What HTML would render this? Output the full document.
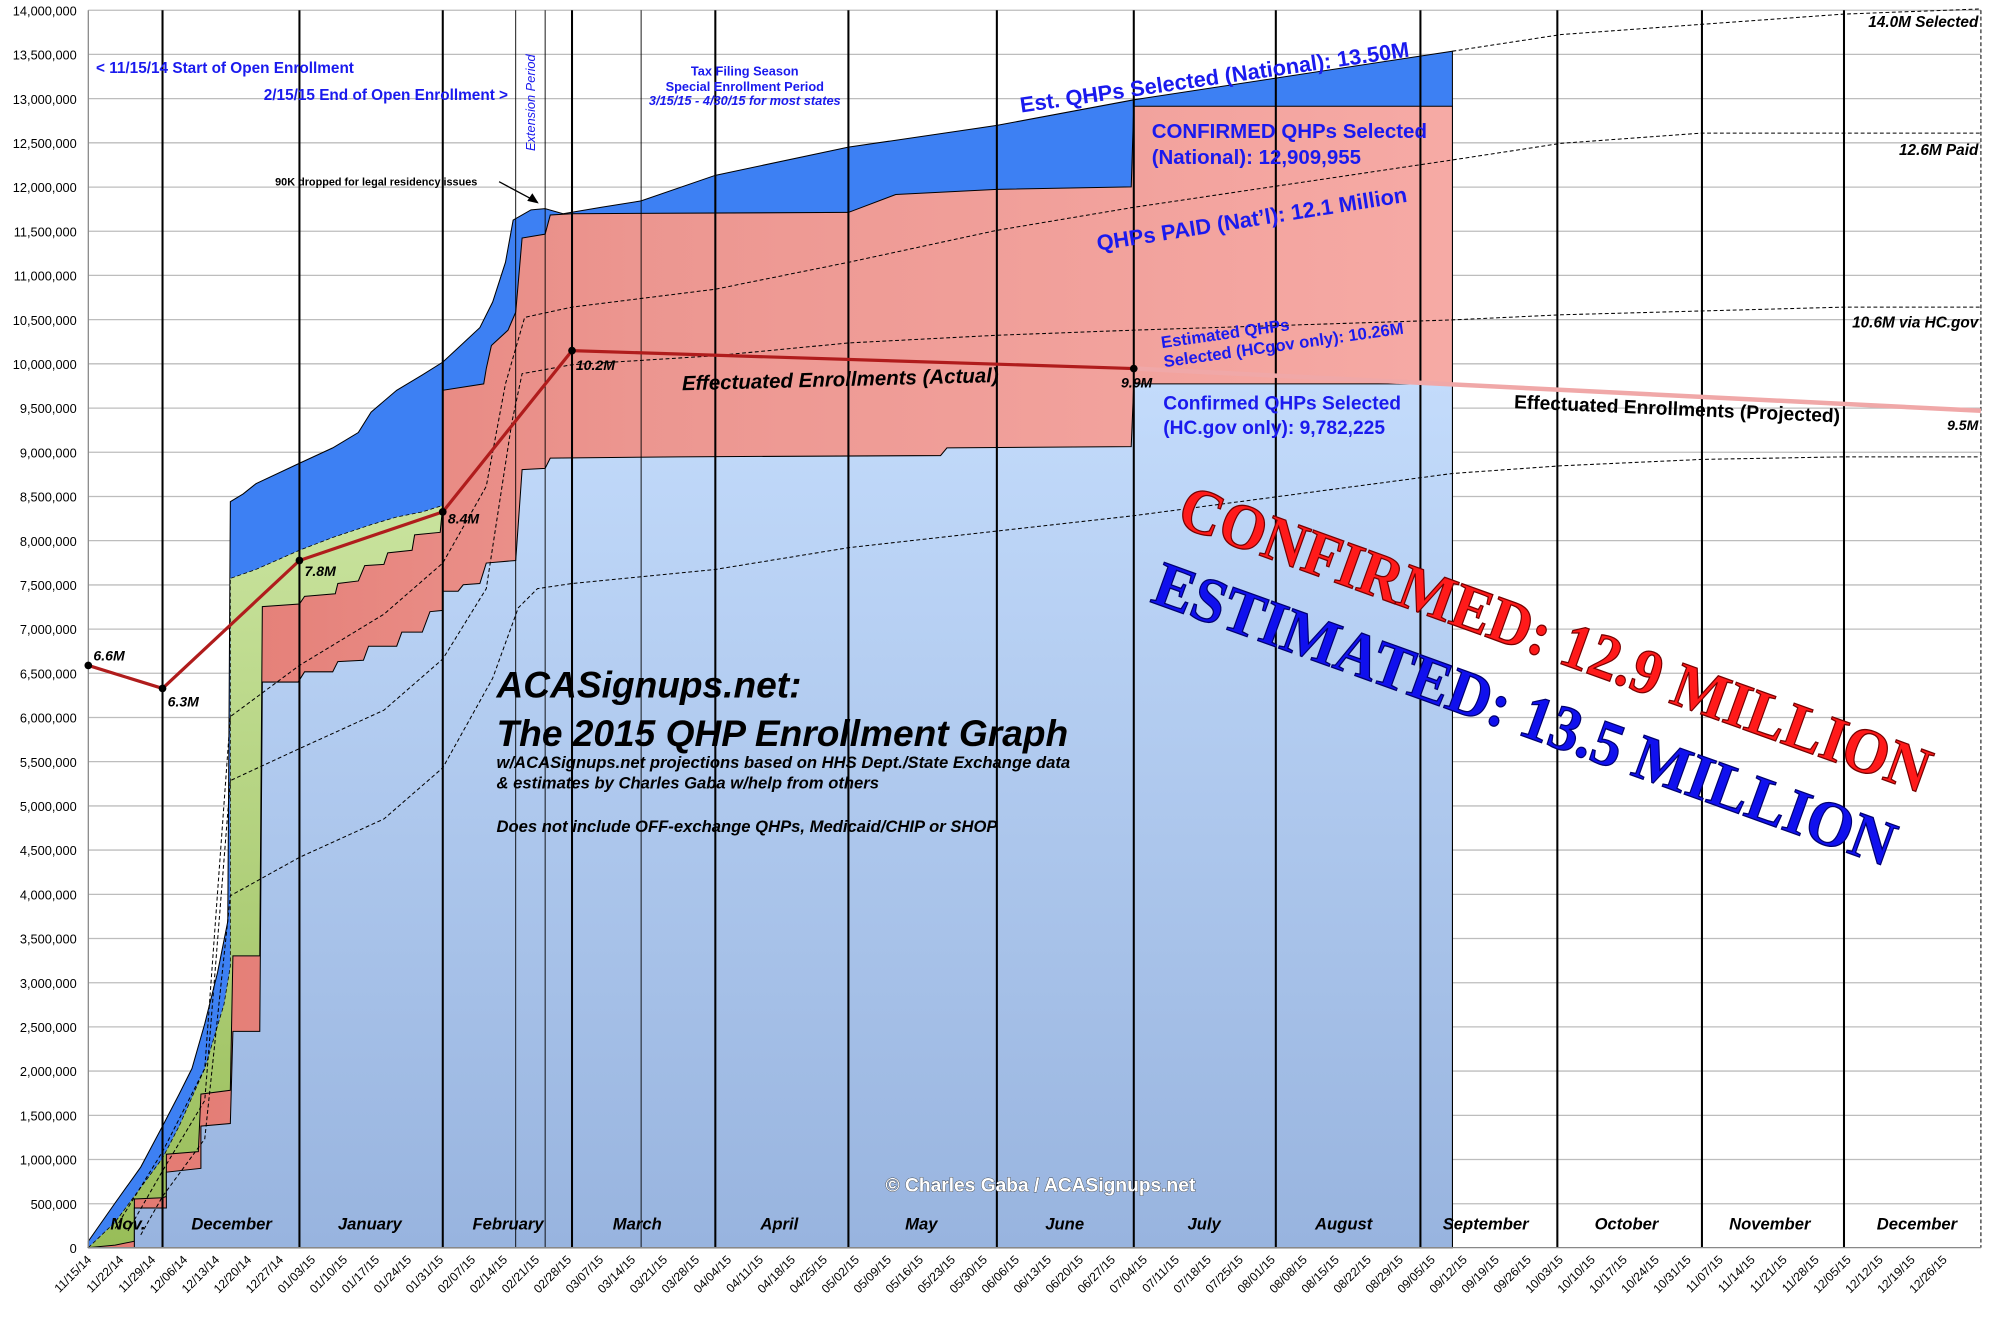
<!DOCTYPE html>
<html><head><meta charset="utf-8"><style>
html,body{margin:0;padding:0;background:#fff;}
svg{display:block;}
text{font-family:"Liberation Sans",sans-serif;}
text.serif{font-family:"Liberation Serif",serif;}
</style></head><body>
<svg width="2006" height="1327" viewBox="0 0 1567.6 1037" xmlns="http://www.w3.org/2000/svg">
<defs>
<linearGradient id="lb" x1="0" y1="0" x2="0" y2="1"><stop offset="0" stop-color="#c3dbfb"/><stop offset="1" stop-color="#98b4df"/></linearGradient>
<linearGradient id="pk" x1="0" y1="0" x2="1" y2="0"><stop offset="0" stop-color="#e2776f"/><stop offset="0.4" stop-color="#ec9690"/><stop offset="1" stop-color="#f6aaa5"/></linearGradient>
<linearGradient id="gr" x1="0" y1="0" x2="0" y2="1"><stop offset="0" stop-color="#c9e39e"/><stop offset="1" stop-color="#98bd58"/></linearGradient>
</defs>
<rect width="1568" height="1037" fill="#fff"/>
<g stroke="#bdbdbd" stroke-width="1">
<line x1="69" x2="1548" y1="8" y2="8"/><line x1="69" x2="1548" y1="42.5" y2="42.5"/><line x1="69" x2="1548" y1="77.1" y2="77.1"/><line x1="69" x2="1548" y1="111.6" y2="111.6"/><line x1="69" x2="1548" y1="146.2" y2="146.2"/><line x1="69" x2="1548" y1="180.7" y2="180.7"/><line x1="69" x2="1548" y1="215.2" y2="215.2"/><line x1="69" x2="1548" y1="249.8" y2="249.8"/><line x1="69" x2="1548" y1="284.3" y2="284.3"/><line x1="69" x2="1548" y1="318.9" y2="318.9"/><line x1="69" x2="1548" y1="353.4" y2="353.4"/><line x1="69" x2="1548" y1="388" y2="388"/><line x1="69" x2="1548" y1="422.5" y2="422.5"/><line x1="69" x2="1548" y1="457.1" y2="457.1"/><line x1="69" x2="1548" y1="491.6" y2="491.6"/><line x1="69" x2="1548" y1="526.1" y2="526.1"/><line x1="69" x2="1548" y1="560.7" y2="560.7"/><line x1="69" x2="1548" y1="595.2" y2="595.2"/><line x1="69" x2="1548" y1="629.8" y2="629.8"/><line x1="69" x2="1548" y1="664.3" y2="664.3"/><line x1="69" x2="1548" y1="698.9" y2="698.9"/><line x1="69" x2="1548" y1="733.4" y2="733.4"/><line x1="69" x2="1548" y1="768" y2="768"/><line x1="69" x2="1548" y1="802.5" y2="802.5"/><line x1="69" x2="1548" y1="837" y2="837"/><line x1="69" x2="1548" y1="871.6" y2="871.6"/><line x1="69" x2="1548" y1="906.1" y2="906.1"/><line x1="69" x2="1548" y1="940.7" y2="940.7"/>
</g>
<g font-size="10" text-anchor="end" fill="#000">
<text x="60" y="12">14,000,000</text><text x="60" y="46.5">13,500,000</text><text x="60" y="81.1">13,000,000</text><text x="60" y="115.6">12,500,000</text><text x="60" y="150.2">12,000,000</text><text x="60" y="184.7">11,500,000</text><text x="60" y="219.2">11,000,000</text><text x="60" y="253.8">10,500,000</text><text x="60" y="288.3">10,000,000</text><text x="60" y="322.9">9,500,000</text><text x="60" y="357.4">9,000,000</text><text x="60" y="392">8,500,000</text><text x="60" y="426.5">8,000,000</text><text x="60" y="461.1">7,500,000</text><text x="60" y="495.6">7,000,000</text><text x="60" y="530.1">6,500,000</text><text x="60" y="564.7">6,000,000</text><text x="60" y="599.2">5,500,000</text><text x="60" y="633.8">5,000,000</text><text x="60" y="668.3">4,500,000</text><text x="60" y="702.9">4,000,000</text><text x="60" y="737.4">3,500,000</text><text x="60" y="772">3,000,000</text><text x="60" y="806.5">2,500,000</text><text x="60" y="841">2,000,000</text><text x="60" y="875.6">1,500,000</text><text x="60" y="910.1">1,000,000</text><text x="60" y="944.7">500,000</text><text x="60" y="979">0</text>
</g>
<polygon fill="#3d80f3" stroke="#000" stroke-width="0.8" points="69,970 90,940 110,912 127,880 140,855 150,835 160,800 170,760 178,720 180,392 190,386 200,378 234,362 260,350 280,338 290,322 310,305 330,293 346,283 360,270 375,256 385,236 395,205 401,172 415,164 426,163 440,167 470,162 501,157 559,137 663,115 779,98 886,78 1135,40 1135,975 69,975"/>
<polygon fill="url(#gr)" stroke="#000" stroke-width="0.6" stroke-dasharray="3,2" points="69,975 90,955 110,928 127,905 140,880 160,835 175,785 180,755 180,452 200,445 234,430 260,420 290,410 310,404 330,400 346,395 346,975"/>
<polygon fill="url(#pk)" stroke="#000" stroke-width="0.8" points="69,975 90,973 105,970 105,937 127,936 130,935 130,902 155,900 157,855 180,852 182,747 203,747 205,474 234,472 238,466 262,464 264,456 280,454 285,442 300,441 303,432 322,430 324,418 344,416 346,395 346,305 378,300 380,288 384,270 397,258 403,244 408,186 426,183 430,168 447,167 663,166 700,152 779,148 884,146 886,83 1135,83 1135,975"/>
<polygon fill="url(#lb)" stroke="#000" stroke-width="0.8" points="69,975 105,975 105,944 130,944 130,916 157,913 157,880 180,878 182,806 203,806 205,533 233,533 238,525 260,525 264,517 284,516 288,505 310,505 314,494 330,494 336,478 346,477 346,462 358,462 362,457 375,456 380,440 403,438 408,367 426,366 430,358 530,357 735,356 740,350 884,349 886,300 1135,300 1135,975"/>
<g fill="none" stroke="#000" stroke-width="0.8" stroke-dasharray="3,2">
<polyline points="1135,40 1220,27 1330,19 1441,11 1548,7"/>
<polyline points="90,960 127,900 160,835 180,560 234,520 300,480 346,440 380,380 395,300 410,248 447,240 559,226 663,205 779,180 886,162 1135,125 1220,112 1330,104 1441,104 1548,104"/>
<polyline points="100,962 127,915 160,860 180,610 234,585 300,555 346,515 380,460 400,330 408,292 447,285 559,278 663,268 779,262 886,258 1135,250 1220,246 1330,243 1441,240 1548,240"/>
<polyline points="110,965 127,935 160,890 180,700 234,670 300,640 346,600 385,530 405,475 420,460 447,456 559,445 663,428 779,415 886,403 1135,370 1220,364 1330,359 1441,357 1548,357"/>
<line x1="1548" y1="8" x2="1548" y2="975"/>
</g>
<g stroke="#000" stroke-width="1.6">
<line x1="127" y1="8" x2="127" y2="975"/><line x1="234" y1="8" x2="234" y2="975"/><line x1="346" y1="8" x2="346" y2="975"/><line x1="447" y1="8" x2="447" y2="975"/><line x1="559" y1="8" x2="559" y2="975"/><line x1="663" y1="8" x2="663" y2="975"/><line x1="779" y1="8" x2="779" y2="975"/><line x1="886" y1="8" x2="886" y2="975"/><line x1="997" y1="8" x2="997" y2="975"/><line x1="1110" y1="8" x2="1110" y2="975"/><line x1="1217" y1="8" x2="1217" y2="975"/><line x1="1330" y1="8" x2="1330" y2="975"/><line x1="1441" y1="8" x2="1441" y2="975"/>
</g>
<g stroke="#000" stroke-width="0.7"><line x1="403" y1="8" x2="403" y2="975"/><line x1="426" y1="8" x2="426" y2="975"/><line x1="501" y1="8" x2="501" y2="975"/></g>
<line x1="69" y1="975" x2="1548" y2="975" stroke="#888" stroke-width="1"/>
<line x1="69" y1="8" x2="69" y2="975" stroke="#888" stroke-width="1"/>
<polyline points="886,288 1548,321" fill="none" stroke="#f0a8a8" stroke-width="3.5"/>
<polyline points="69,520 127,538 234,438 346,400 447,274 886,288" fill="none" stroke="#b01c1c" stroke-width="2.5"/>
<g fill="#000"><circle cx="69" cy="520" r="3"/><circle cx="127" cy="538" r="3"/><circle cx="234" cy="438" r="3"/><circle cx="346" cy="400" r="3"/><circle cx="447" cy="274" r="3"/><circle cx="886" cy="288" r="3"/></g>
<g font-size="11" font-weight="bold" font-style="italic" fill="#000">
<text x="73" y="516">6.6M</text><text x="131" y="552">6.3M</text><text x="238" y="450">7.8M</text><text x="350" y="409">8.4M</text><text x="450" y="289">10.2M</text><text x="876" y="303">9.9M</text><text x="1546" y="336" text-anchor="end">9.5M</text>
<text x="1546" y="21" text-anchor="end" font-size="12">14.0M Selected</text><text x="1546" y="121" text-anchor="end" font-size="12">12.6M Paid</text><text x="1546" y="256" text-anchor="end" font-size="12">10.6M via HC.gov</text>
</g>
<g font-size="13" font-weight="bold" font-style="italic" text-anchor="middle" fill="#000">
<text x="100" y="961">Nov.</text><text x="181" y="961">December</text><text x="289" y="961">January</text><text x="397" y="961">February</text><text x="498" y="961">March</text><text x="609" y="961">April</text><text x="720" y="961">May</text><text x="832" y="961">June</text><text x="941" y="961">July</text><text x="1050" y="961">August</text><text x="1161" y="961">September</text><text x="1271" y="961">October</text><text x="1383" y="961">November</text><text x="1498" y="961">December</text>
</g>
<g fill="#1a1aee" font-weight="bold">
<text x="75" y="57" font-size="12">&lt; 11/15/14 Start of Open Enrollment</text>
<text x="397" y="78" font-size="12" text-anchor="end">2/15/15 End of Open Enrollment &gt;</text>
<text transform="translate(418,118) rotate(-90)" font-size="10" font-style="italic" font-weight="normal">Extension Period</text>
<g font-size="10" text-anchor="middle"><text x="582" y="59">Tax Filing Season</text><text x="582" y="71">Special Enrollment Period</text><text x="582" y="82" font-style="italic">3/15/15 - 4/30/15 for most states</text></g>
<text transform="translate(798,88) rotate(-8.2)" font-size="17">Est. QHPs Selected (National): 13.50M</text>
<text x="900" y="108" font-size="16">CONFIRMED QHPs Selected</text>
<text x="900" y="128" font-size="16">(National): 12,909,955</text>
<text transform="translate(858,196) rotate(-9)" font-size="17">QHPs PAID (Nat’l): 12.1 Million</text>
<text transform="translate(908,272) rotate(-8)" font-size="13">Estimated QHPs</text>
<text transform="translate(910,287) rotate(-8)" font-size="13">Selected (HCgov only): 10.26M</text>
<text x="909" y="320" font-size="15">Confirmed QHPs Selected</text>
<text x="909" y="339" font-size="15">(HC.gov only): 9,782,225</text>
</g>
<text x="215" y="145" font-size="8.5" font-weight="bold" fill="#000">90K dropped for legal residency issues</text>
<line x1="390" y1="142" x2="420" y2="158" stroke="#000" stroke-width="1"/><polygon points="421,159 412,157 416,151" fill="#000"/>
<text transform="translate(533,305) rotate(-1.5)" font-size="16" font-weight="bold" font-style="italic" fill="#000">Effectuated Enrollments (Actual)</text>
<text transform="translate(1183,319) rotate(2.5)" font-size="15" font-weight="bold" fill="#000">Effectuated Enrollments (Projected)</text>
<g fill="#000" font-weight="bold" font-style="italic">
<text x="388" y="545" font-size="29">ACASignups.net:</text>
<text x="388" y="583" font-size="29">The 2015 QHP Enrollment Graph</text>
<text x="388" y="600" font-size="13">w/ACASignups.net projections based on HHS Dept./State Exchange data</text>
<text x="388" y="616" font-size="13">&amp; estimates by Charles Gaba w/help from others</text>
<text x="388" y="650" font-size="13">Does not include OFF-exchange QHPs, Medicaid/CHIP or SHOP</text>
</g>
<text x="692" y="931" font-size="15" font-weight="bold" fill="#fff" stroke="#333" stroke-width="0.6" paint-order="stroke">© Charles Gaba / ACASignups.net</text>
<text class="serif" transform="translate(918,410) rotate(19.8)" font-size="50" font-weight="bold" fill="#ff1a1a" stroke="#700" stroke-width="1" textLength="620" lengthAdjust="spacingAndGlyphs">CONFIRMED: 12.9 MILLION</text>
<text class="serif" transform="translate(898,470) rotate(19.8)" font-size="50" font-weight="bold" fill="#1010ee" stroke="#000070" stroke-width="1" textLength="612" lengthAdjust="spacingAndGlyphs">ESTIMATED: 13.5 MILLION</text>
<g font-size="9.5" text-anchor="end" fill="#000">
<text transform="translate(72,985) rotate(-45)">11/15/14</text><text transform="translate(97,985) rotate(-45)">11/22/14</text><text transform="translate(122,985) rotate(-45)">11/29/14</text><text transform="translate(147,985) rotate(-45)">12/06/14</text><text transform="translate(172,985) rotate(-45)">12/13/14</text><text transform="translate(197,985) rotate(-45)">12/20/14</text><text transform="translate(222,985) rotate(-45)">12/27/14</text><text transform="translate(247,985) rotate(-45)">01/03/15</text><text transform="translate(272,985) rotate(-45)">01/10/15</text><text transform="translate(297,985) rotate(-45)">01/17/15</text><text transform="translate(322,985) rotate(-45)">01/24/15</text><text transform="translate(347,985) rotate(-45)">01/31/15</text><text transform="translate(372,985) rotate(-45)">02/07/15</text><text transform="translate(397,985) rotate(-45)">02/14/15</text><text transform="translate(422,985) rotate(-45)">02/21/15</text><text transform="translate(447,985) rotate(-45)">02/28/15</text><text transform="translate(472,985) rotate(-45)">03/07/15</text><text transform="translate(497,985) rotate(-45)">03/14/15</text><text transform="translate(522,985) rotate(-45)">03/21/15</text><text transform="translate(547,985) rotate(-45)">03/28/15</text><text transform="translate(572,985) rotate(-45)">04/04/15</text><text transform="translate(597,985) rotate(-45)">04/11/15</text><text transform="translate(622,985) rotate(-45)">04/18/15</text><text transform="translate(647,985) rotate(-45)">04/25/15</text><text transform="translate(672,985) rotate(-45)">05/02/15</text><text transform="translate(697,985) rotate(-45)">05/09/15</text><text transform="translate(722,985) rotate(-45)">05/16/15</text><text transform="translate(747,985) rotate(-45)">05/23/15</text><text transform="translate(772,985) rotate(-45)">05/30/15</text><text transform="translate(797,985) rotate(-45)">06/06/15</text><text transform="translate(822,985) rotate(-45)">06/13/15</text><text transform="translate(847,985) rotate(-45)">06/20/15</text><text transform="translate(872,985) rotate(-45)">06/27/15</text><text transform="translate(897,985) rotate(-45)">07/04/15</text><text transform="translate(922,985) rotate(-45)">07/11/15</text><text transform="translate(947,985) rotate(-45)">07/18/15</text><text transform="translate(972,985) rotate(-45)">07/25/15</text><text transform="translate(997,985) rotate(-45)">08/01/15</text><text transform="translate(1022,985) rotate(-45)">08/08/15</text><text transform="translate(1047,985) rotate(-45)">08/15/15</text><text transform="translate(1072,985) rotate(-45)">08/22/15</text><text transform="translate(1097,985) rotate(-45)">08/29/15</text><text transform="translate(1122,985) rotate(-45)">09/05/15</text><text transform="translate(1147,985) rotate(-45)">09/12/15</text><text transform="translate(1172,985) rotate(-45)">09/19/15</text><text transform="translate(1197,985) rotate(-45)">09/26/15</text><text transform="translate(1222,985) rotate(-45)">10/03/15</text><text transform="translate(1247,985) rotate(-45)">10/10/15</text><text transform="translate(1272,985) rotate(-45)">10/17/15</text><text transform="translate(1297,985) rotate(-45)">10/24/15</text><text transform="translate(1322,985) rotate(-45)">10/31/15</text><text transform="translate(1347,985) rotate(-45)">11/07/15</text><text transform="translate(1372,985) rotate(-45)">11/14/15</text><text transform="translate(1397,985) rotate(-45)">11/21/15</text><text transform="translate(1422,985) rotate(-45)">11/28/15</text><text transform="translate(1447,985) rotate(-45)">12/05/15</text><text transform="translate(1472,985) rotate(-45)">12/12/15</text><text transform="translate(1497,985) rotate(-45)">12/19/15</text><text transform="translate(1522,985) rotate(-45)">12/26/15</text>
</g>
</svg>
</body></html>
